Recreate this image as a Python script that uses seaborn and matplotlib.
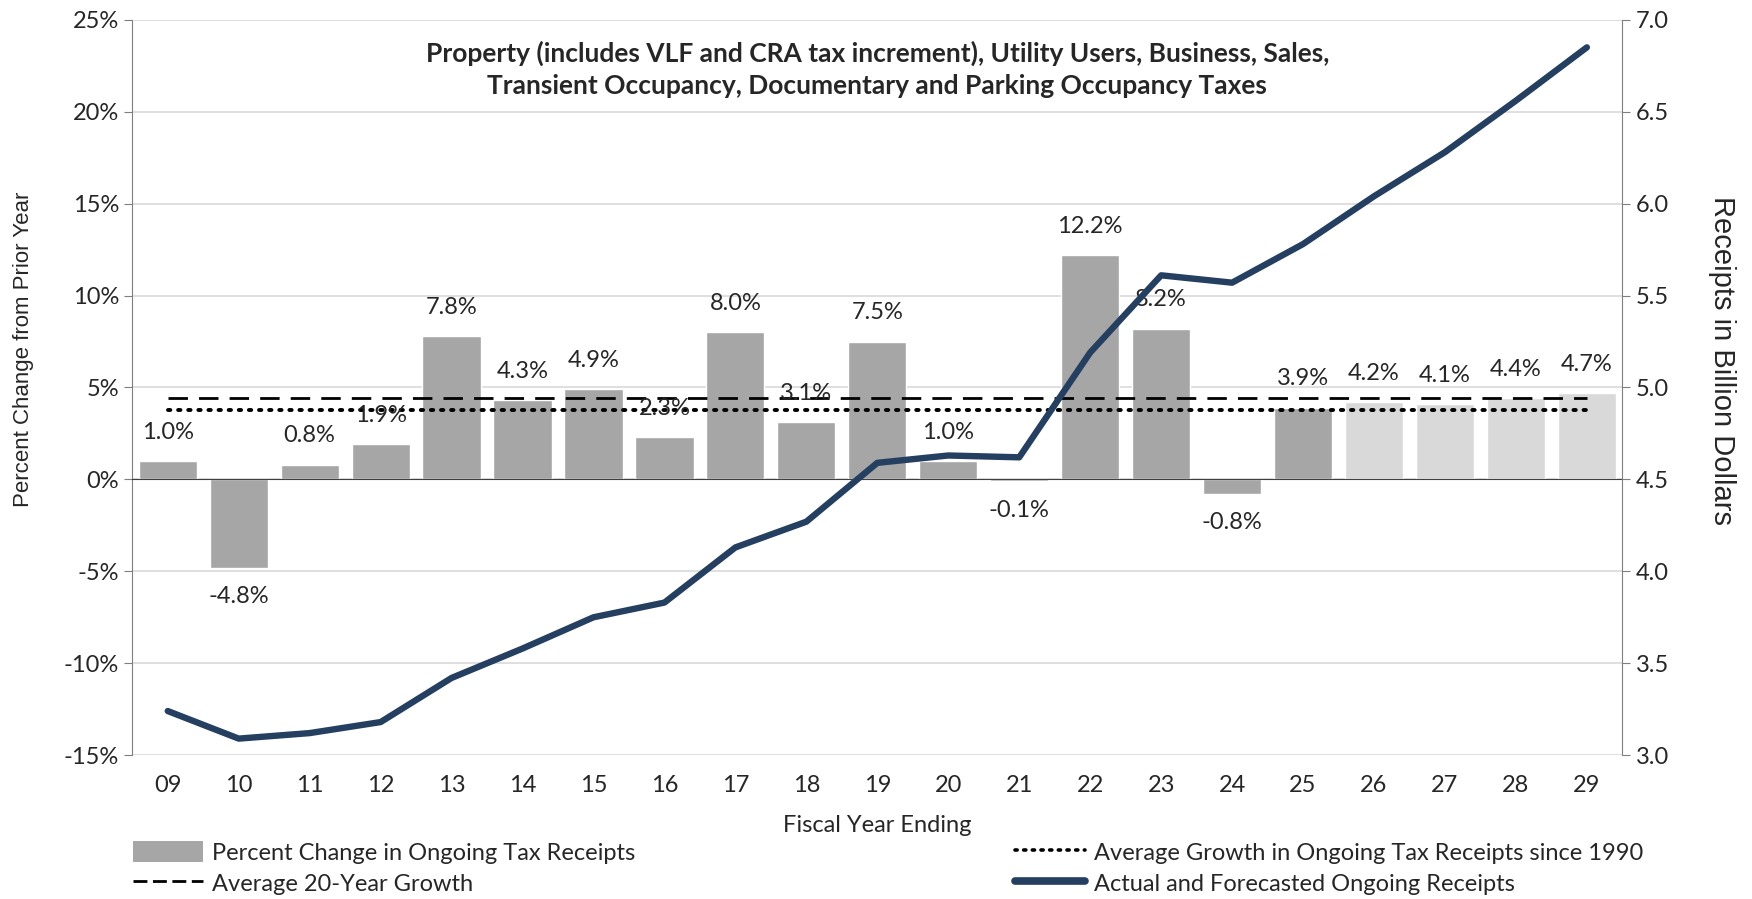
import numpy as np
import pandas as pd
import matplotlib
matplotlib.use("Agg")
import matplotlib.pyplot as plt
import seaborn as sns
from matplotlib.patches import Patch
from matplotlib.lines import Line2D

# ----------------------------------------------------------
# Data
# ----------------------------------------------------------
years = ["09", "10", "11", "12", "13", "14", "15", "16", "17", "18", "19",
         "20", "21", "22", "23", "24", "25", "26", "27", "28", "29"]
pct_change = [1.0, -4.8, 0.8, 1.9, 7.8, 4.3, 4.9, 2.3, 8.0, 3.1, 7.5,
              1.0, -0.1, 12.2, 8.2, -0.8, 3.9, 4.2, 4.1, 4.4, 4.7]
receipts = [3.24, 3.09, 3.12, 3.18, 3.42, 3.58, 3.75, 3.83, 4.13, 4.27, 4.59,
            4.63, 4.62, 5.19, 5.61, 5.57, 5.78, 6.04, 6.28, 6.56, 6.85]
avg_20yr = 4.4
avg_1990 = 3.8
forecast_start = "26"

title = ("Property (includes VLF and CRA tax increment), Utility Users, Business, Sales,\n"
         "Transient Occupancy, Documentary and Parking Occupancy Taxes")

BAR_ACTUAL = "#A6A6A6"
BAR_FORECAST = "#D9D9D9"
LINE_COLOR = "#253F61"
GRID = "#D9D9D9"

df = pd.DataFrame({"year": years, "pct": pct_change, "receipts": receipts})
df["x"] = np.arange(len(df))
colors = [BAR_FORECAST if int(y) >= int(forecast_start) else BAR_ACTUAL for y in years]

# ----------------------------------------------------------
# Figure
# ----------------------------------------------------------
sns.set_style("white")
plt.rcParams["font.family"] = ["Lato", "DejaVu Sans"]

fig = plt.figure(figsize=(17.52, 8.99), dpi=100)
ax = fig.add_axes([0.0755, 0.160, 0.8505, 0.818])

sns.barplot(data=df, x="x", y="pct", hue="x", palette=colors, legend=False,
            width=0.82, ax=ax, zorder=2)

ax.set_ylim(-15, 25)
ax.set_xlim(-0.5, len(years) - 0.5)
ax.set_yticks(np.arange(-15, 26, 5))
ax.set_yticklabels([f"{v}%" for v in range(-15, 26, 5)], fontsize=17)
ax.yaxis.grid(True, color=GRID, linewidth=1.2, zorder=0)
ax.set_axisbelow(True)

# x axis line at 0 with ticks at category boundaries
ax.spines["bottom"].set_position(("data", 0))
ax.spines["bottom"].set_color("#404040")
ax.set_xticks(np.arange(-0.5, len(years), 1))
ax.tick_params(axis="x", length=8, color="#404040", labelbottom=False)
ax.set_xlabel("")
ax.set_ylabel("Percent Change from Prior Year", fontsize=16,
              family=["Liberation Sans", "DejaVu Sans"])
ax.yaxis.set_label_coords(-0.066, 0.552)
for s in ["top", "right"]:
    ax.spines[s].set_visible(False)
ax.spines["left"].set_color("#7F7F7F")
ax.tick_params(axis="y", length=6, color="#7F7F7F", left=True)

# category labels along the bottom
sec = ax.secondary_xaxis("bottom")
sec.set_xticks(df["x"])
sec.set_xticklabels(years, fontsize=17)
sec.tick_params(length=0, pad=14)
sec.spines["bottom"].set_visible(False)
sec.set_xlabel("Fiscal Year Ending", fontsize=17, labelpad=14)

# average lines
ax.plot([df["x"].iloc[0], df["x"].iloc[-1]], [avg_20yr, avg_20yr],
        color="black", linestyle=(0, (7, 4)), linewidth=2, zorder=3)
ax.plot([df["x"].iloc[0], df["x"].iloc[-1]], [avg_1990, avg_1990],
        color="black", linestyle=(0, (0.6, 2.0)), linewidth=2.8,
        dash_capstyle="round", zorder=3)

# bar value labels
for _, r in df.iterrows():
    if r["pct"] >= 0:
        ax.text(r["x"], r["pct"] + 1.0, f"{r['pct']:.1f}%", ha="center",
                va="bottom", fontsize=17, zorder=5)
    else:
        ax.text(r["x"], r["pct"] - 1.0, f"{r['pct']:.1f}%", ha="center",
                va="top", fontsize=17, zorder=5)

ax.text(0.5, 0.972, title, transform=ax.transAxes, ha="center", va="top",
        fontsize=19, fontweight="bold", linespacing=1.4, zorder=6)

# receipts line on the right axis
ax2 = ax.twinx()
sns.lineplot(data=df, x="x", y="receipts", color=LINE_COLOR, linewidth=4.6,
             ax=ax2, zorder=4, solid_capstyle="round")
ax2.set_ylim(3.0, 7.0)
ax2.set_yticks(np.arange(3.0, 7.01, 0.5))
ax2.set_yticklabels([f"{v:.1f}" for v in np.arange(3.0, 7.01, 0.5)], fontsize=17)
ax2.set_ylabel("Receipts in Billion Dollars", fontsize=21, rotation=270,
               family=["Liberation Sans", "DejaVu Sans"], va="center")
ax2.yaxis.set_label_coords(1.067, 0.536)
ax2.set_xlabel("")
for s in ["top", "left", "bottom"]:
    ax2.spines[s].set_visible(False)
ax2.spines["right"].set_color("#7F7F7F")
ax2.tick_params(axis="y", length=6, color="#7F7F7F", right=True)
ax2.set_xlim(ax.get_xlim())

# ----------------------------------------------------------
# Legends
# ----------------------------------------------------------
h_bar = Patch(facecolor=BAR_ACTUAL, edgecolor="none")
h_dash = Line2D([], [], color="black", linestyle=(0, (5, 2)), linewidth=2)
h_dot = Line2D([], [], color="black", linestyle=(0, (0.6, 1.8)), linewidth=2.6,
               dash_capstyle="round")
h_line = Line2D([], [], color=LINE_COLOR, linewidth=5.5, solid_capstyle="round")

leg_kw = dict(loc="upper left", frameon=False, fontsize=17, handlelength=3.0,
              handleheight=1.0, labelspacing=0.35, handletextpad=0.35)
leg1 = fig.legend([h_bar, h_dash],
                  ["Percent Change in Ongoing Tax Receipts", "Average 20-Year Growth"],
                  bbox_to_anchor=(0.0635, 0.088), **leg_kw)
leg2 = fig.legend([h_dot, h_line],
                  ["Average Growth in Ongoing Tax Receipts since 1990",
                   "Actual and Forecasted Ongoing Receipts"],
                  bbox_to_anchor=(0.567, 0.088), **leg_kw)

fig.savefig("out.png", dpi=100)
